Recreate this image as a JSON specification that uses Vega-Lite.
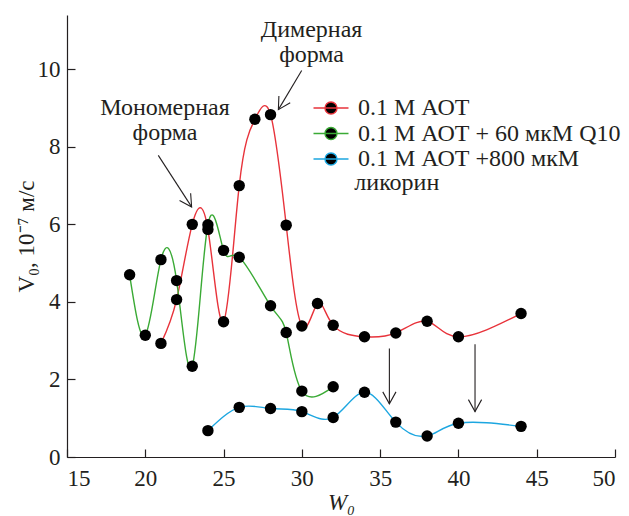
{
  "$schema": "https://vega.github.io/schema/vega-lite/v6.json",
  "width": 548,
  "height": 442,
  "autosize": {"type": "none"},
  "padding": {"left": 67, "top": 15, "right": 14, "bottom": 59},
  "background": "white",
  "config": {
    "font": "Liberation Serif, Times New Roman, serif",
    "view": {"stroke": null},
    "axis": {
      "grid": false,
      "domainColor": "#231f20",
      "domainWidth": 1.2,
      "tickColor": "#231f20",
      "tickWidth": 1.2,
      "tickSize": -8,
      "labelFont": "Liberation Serif, Times New Roman, serif",
      "labelFontSize": 23,
      "labelColor": "#231f20",
      "titleFont": "Liberation Serif, Times New Roman, serif",
      "titleFontSize": 23,
      "titleFontWeight": "normal",
      "titleColor": "#231f20"
    }
  },
  "datasets": {
    "curves": [
      {"series": "0.1 М АОТ", "w": 21, "v": 2.93},
      {"series": "0.1 М АОТ", "w": 22, "v": 4.06},
      {"series": "0.1 М АОТ", "w": 23, "v": 6.0},
      {"series": "0.1 М АОТ", "w": 24, "v": 5.87},
      {"series": "0.1 М АОТ", "w": 25, "v": 3.49},
      {"series": "0.1 М АОТ", "w": 26, "v": 7.0},
      {"series": "0.1 М АОТ", "w": 27, "v": 8.71},
      {"series": "0.1 М АОТ", "w": 28, "v": 8.83},
      {"series": "0.1 М АОТ", "w": 29, "v": 5.98},
      {"series": "0.1 М АОТ", "w": 30, "v": 3.38},
      {"series": "0.1 М АОТ", "w": 31, "v": 3.96},
      {"series": "0.1 М АОТ", "w": 32, "v": 3.4},
      {"series": "0.1 М АОТ", "w": 34, "v": 3.1},
      {"series": "0.1 М АОТ", "w": 36, "v": 3.2},
      {"series": "0.1 М АОТ", "w": 38, "v": 3.5},
      {"series": "0.1 М АОТ", "w": 40, "v": 3.1},
      {"series": "0.1 М АОТ", "w": 44, "v": 3.7},
      {"series": "0.1 М АОТ + 60 мкМ Q10", "w": 19, "v": 4.7},
      {"series": "0.1 М АОТ + 60 мкМ Q10", "w": 20, "v": 3.14},
      {"series": "0.1 М АОТ + 60 мкМ Q10", "w": 21, "v": 5.09},
      {"series": "0.1 М АОТ + 60 мкМ Q10", "w": 22, "v": 4.55},
      {"series": "0.1 М АОТ + 60 мкМ Q10", "w": 23, "v": 2.34},
      {"series": "0.1 М АОТ + 60 мкМ Q10", "w": 24, "v": 5.99},
      {"series": "0.1 М АОТ + 60 мкМ Q10", "w": 25, "v": 5.33},
      {"series": "0.1 М АОТ + 60 мкМ Q10", "w": 26, "v": 5.15},
      {"series": "0.1 М АОТ + 60 мкМ Q10", "w": 28, "v": 3.9},
      {"series": "0.1 М АОТ + 60 мкМ Q10", "w": 29, "v": 3.21},
      {"series": "0.1 М АОТ + 60 мкМ Q10", "w": 30, "v": 1.7},
      {"series": "0.1 М АОТ + 60 мкМ Q10", "w": 32, "v": 1.81},
      {"series": "0.1 М АОТ +800 мкМ", "w": 24, "v": 0.68},
      {"series": "0.1 М АОТ +800 мкМ", "w": 26, "v": 1.28},
      {"series": "0.1 М АОТ +800 мкМ", "w": 28, "v": 1.25},
      {"series": "0.1 М АОТ +800 мкМ", "w": 30, "v": 1.17},
      {"series": "0.1 М АОТ +800 мкМ", "w": 32, "v": 1.02},
      {"series": "0.1 М АОТ +800 мкМ", "w": 34, "v": 1.67},
      {"series": "0.1 М АОТ +800 мкМ", "w": 36, "v": 0.9},
      {"series": "0.1 М АОТ +800 мкМ", "w": 38, "v": 0.54},
      {"series": "0.1 М АОТ +800 мкМ", "w": 40, "v": 0.87},
      {"series": "0.1 М АОТ +800 мкМ", "w": 44, "v": 0.79}
    ],
    "notes": [
      {"text": "Мономерная", "x": 21.26, "y": 8.81},
      {"text": "форма", "x": 21.26, "y": 8.17},
      {"text": "Димерная", "x": 30.62, "y": 10.83},
      {"text": "форма", "x": 30.62, "y": 10.19}
    ],
    "legendNote": [
      {"text": "ликорин", "x": 33.35, "y": 6.88}
    ],
    "arrows": [
      {"id": "mono", "x": 20.83, "y": 7.78, "x2": 22.96, "y2": 6.45},
      {"id": "dim", "x": 29.99, "y": 9.97, "x2": 28.5, "y2": 8.96},
      {"id": "down", "x": 35.59, "y": 2.8, "x2": 35.59, "y2": 1.37},
      {"id": "down", "x": 41.06, "y": 2.91, "x2": 41.06, "y2": 1.17}
    ]
  },
  "layer": [
    {
      "data": {"name": "curves"},
      "mark": {"type": "line", "interpolate": "natural"},
      "encoding": {
        "x": {
          "field": "w", "type": "quantitative",
          "scale": {"domain": [15, 50], "nice": false, "zero": false},
          "axis": {"values": [15, 20, 25, 30, 35, 40, 45, 50], "title": "W₀", "titlePadding": 1, "labelPadding": 18, "titleFontStyle": "italic"}
        },
        "y": {
          "field": "v", "type": "quantitative",
          "scale": {"domain": [0, 11.4], "nice": false},
          "axis": {"values": [0, 2, 4, 6, 8, 10], "title": "V₀, 10⁻⁷ м/с", "titleX": -29, "labelPadding": 15}
        },
        "color": {
          "field": "series", "type": "nominal",
          "scale": {
            "domain": ["0.1 М АОТ", "0.1 М АОТ + 60 мкМ Q10", "0.1 М АОТ +800 мкМ"],
            "range": ["#e8333b", "#3aaa35", "#1ca6e0"]
          },
          "legend": {
            "orient": "none",
            "legendX": 252,
            "legendY": 81,
            "title": null,
            "padding": 0,
            "symbolType": "M-1.75,0L1.75,0M-0.6,0A0.6,0.6,0,1,1,0.6,0A0.6,0.6,0,1,1,-0.6,0",
            "symbolSize": 400,
            "symbolFillColor": "black",
            "symbolStrokeWidth": 1.4,
            "labelFont": "Liberation Serif, Times New Roman, serif",
            "labelFontSize": 24,
            "labelColor": "#231f20",
            "labelOffset": 15,
            "labelLimit": 400,
            "rowPadding": 1.5
          }
        },
        "strokeWidth": {
          "field": "series", "type": "nominal",
          "scale": {
            "domain": ["0.1 М АОТ", "0.1 М АОТ + 60 мкМ Q10", "0.1 М АОТ +800 мкМ"],
            "range": [1.4, 1.4, 2.4]
          },
          "legend": null
        }
      }
    },
    {
      "data": {"name": "curves"},
      "mark": {"type": "circle", "size": 130, "color": "black", "opacity": 1},
      "encoding": {
        "x": {"field": "w", "type": "quantitative"},
        "y": {"field": "v", "type": "quantitative"}
      }
    },
    {
      "data": {"name": "notes"},
      "mark": {"type": "text", "align": "center", "baseline": "alphabetic", "fontSize": 24, "font": "Liberation Serif, Times New Roman, serif", "color": "#231f20"},
      "encoding": {
        "x": {"field": "x", "type": "quantitative"},
        "y": {"field": "y", "type": "quantitative"},
        "text": {"field": "text"}
      }
    },
    {
      "data": {"name": "legendNote"},
      "mark": {"type": "text", "align": "left", "baseline": "alphabetic", "fontSize": 24, "font": "Liberation Serif, Times New Roman, serif", "color": "#231f20"},
      "encoding": {
        "x": {"field": "x", "type": "quantitative"},
        "y": {"field": "y", "type": "quantitative"},
        "text": {"field": "text"}
      }
    },
    {
      "data": {"name": "arrows"},
      "mark": {"type": "rule", "color": "#231f20", "strokeWidth": 1.1},
      "encoding": {
        "x": {"field": "x", "type": "quantitative"},
        "y": {"field": "y", "type": "quantitative"},
        "x2": {"field": "x2"},
        "y2": {"field": "y2"}
      }
    },
    {
      "data": {"name": "arrows"},
      "transform": [{"filter": "datum.id === 'mono'"}],
      "mark": {"type": "point", "shape": "M-0.55,-1L0,0L0.55,-1", "size": 576, "filled": false, "stroke": "#231f20", "strokeWidth": 1.1, "angle": -33, "opacity": 1},
      "encoding": {
        "x": {"field": "x2", "type": "quantitative"},
        "y": {"field": "y2", "type": "quantitative"}
      }
    },
    {
      "data": {"name": "arrows"},
      "transform": [{"filter": "datum.id === 'dim'"}],
      "mark": {"type": "point", "shape": "M-0.55,-1L0,0L0.55,-1", "size": 576, "filled": false, "stroke": "#231f20", "strokeWidth": 1.1, "angle": 31, "opacity": 1},
      "encoding": {
        "x": {"field": "x2", "type": "quantitative"},
        "y": {"field": "y2", "type": "quantitative"}
      }
    },
    {
      "data": {"name": "arrows"},
      "transform": [{"filter": "datum.id === 'down'"}],
      "mark": {"type": "point", "shape": "M-0.55,-1L0,0L0.55,-1", "size": 576, "filled": false, "stroke": "#231f20", "strokeWidth": 1.1, "angle": 0, "opacity": 1},
      "encoding": {
        "x": {"field": "x2", "type": "quantitative"},
        "y": {"field": "y2", "type": "quantitative"}
      }
    }
  ]
}
